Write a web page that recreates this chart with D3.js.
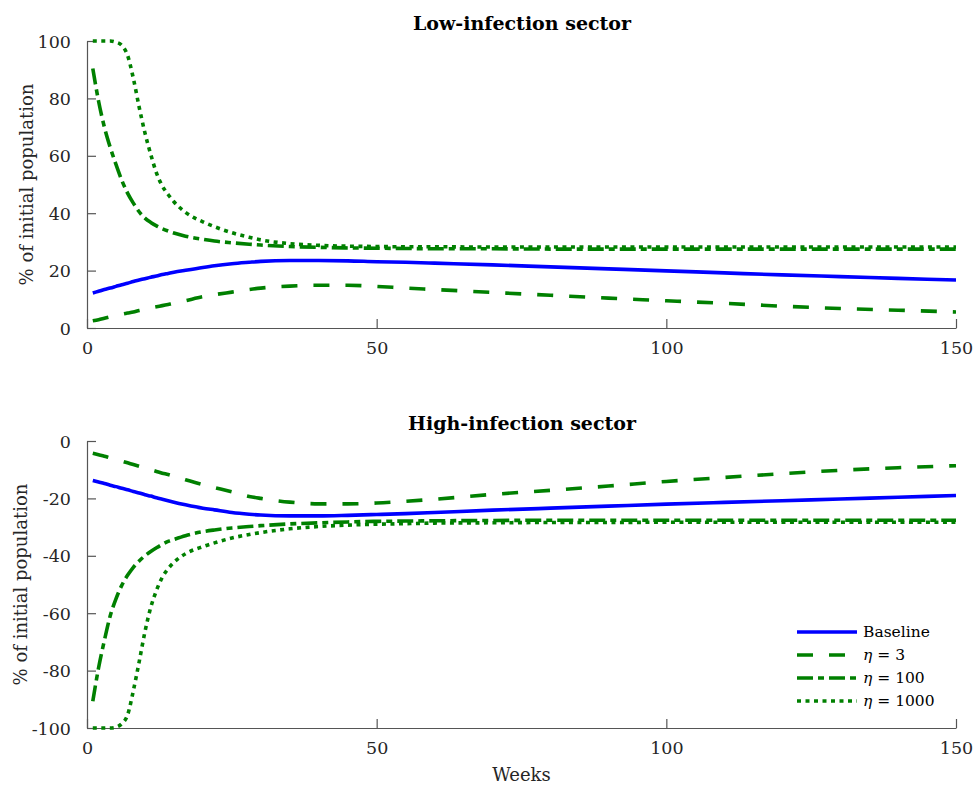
<!DOCTYPE html>
<html>
<head>
<meta charset="utf-8">
<script src="https://cdn.jsdelivr.net/npm/d3@7"></script>
<style>
  body { margin: 0; background: #fff; }
</style>
</head>
<body>
<svg id="chart" width="973" height="785"></svg>
<script>
// Simulation output: share of the initial population, by week
const weeks = [1,2,3,4,5,6,7,8,9,10,11,12,13,14,15,17,20,22,25,28,30,35,40,45,50,55,60,70,80,90,100,110,120,130,140,150];

// Low-infection sector
const lowBaseline = [12.2,12.8,13.4,13.9,14.5,15.1,15.6,16.2,16.7,17.2,17.7,18.1,18.6,19.0,19.4,20.1,21.1,21.7,22.4,22.9,23.2,23.5,23.5,23.4,23.1,22.9,22.6,22.0,21.3,20.6,19.9,19.2,18.5,17.9,17.3,16.7];
const lowEta3 = [2.5,2.9,3.4,3.9,4.3,4.8,5.2,5.6,6.1,6.5,7.0,7.4,7.8,8.2,8.6,9.5,10.9,11.6,12.5,13.4,13.9,14.6,14.9,14.9,14.5,13.9,13.4,12.4,11.4,10.4,9.5,8.6,7.6,6.8,6.2,5.6];
const lowEta100 = [90.4,79,70,63,57,51.5,47,43.5,40.5,38.3,36.8,35.6,34.6,33.8,33.1,32.0,30.9,30.3,29.7,29.2,28.9,28.4,28.1,27.9,27.8,27.7,27.6,27.6,27.5,27.5,27.5,27.5,27.5,27.5,27.5,27.5];
const lowEta1000 = [100,100,100,100,99.6,98.5,95,87,77,68,60.5,54,49.5,46.5,44,40.3,37,35.3,33.2,31.6,30.7,29.4,28.8,28.5,28.4,28.3,28.3,28.2,28.2,28.2,28.2,28.2,28.2,28.2,28.2,28.2];

// High-infection sector
const highBaseline = [-13.8,-14.3,-14.8,-15.4,-15.9,-16.5,-17.0,-17.6,-18.1,-18.7,-19.2,-19.8,-20.3,-20.8,-21.3,-22.2,-23.4,-24.0,-24.9,-25.5,-25.8,-26.1,-26.1,-25.9,-25.6,-25.3,-24.9,-24.1,-23.4,-22.7,-22.0,-21.4,-20.8,-20.2,-19.6,-19.0];
const highEta3 = [-4.3,-4.8,-5.3,-5.9,-6.4,-7.0,-7.6,-8.2,-8.8,-9.4,-10.0,-10.6,-11.2,-11.7,-12.3,-13.5,-15.2,-16.2,-17.7,-19.3,-20.0,-21.3,-21.9,-21.9,-21.6,-21.0,-20.3,-18.6,-17.2,-15.7,-14.1,-12.7,-11.4,-10.2,-9.3,-8.6];
const highEta100 = [-90.7,-79,-69.5,-61,-55,-50.3,-46.8,-44,-41.8,-40,-38.5,-37.2,-36,-35,-34.3,-33,-31.6,-31,-30.3,-29.8,-29.5,-28.9,-28.5,-28.2,-28.0,-27.9,-27.8,-27.7,-27.6,-27.6,-27.6,-27.6,-27.6,-27.6,-27.6,-27.6];
const highEta1000 = [-100,-100,-100,-100,-99.7,-98.5,-95.5,-87,-77,-66.5,-58,-52,-47.5,-44.5,-42.3,-39.3,-36.8,-35.5,-33.8,-32.6,-31.9,-30.6,-29.8,-29.3,-29.0,-28.8,-28.6,-28.5,-28.4,-28.4,-28.3,-28.3,-28.3,-28.3,-28.3,-28.3];

const seriesNames = ["Baseline", "\u03b7 = 3", "\u03b7 = 100", "\u03b7 = 1000"];
const xTicks = [0, 50, 100, 150];
const lowYTicks = [0, 20, 40, 60, 80, 100];
const highYTicks = [-100, -80, -60, -40, -20, 0];

const FONT = '"DejaVu Serif", "Liberation Serif", serif';
const styles = [
  { color: "#0000ff", dash: null },
  { color: "#008000", dash: "16,16" },
  { color: "#008000", dash: "16,5,6,5" },
  { color: "#008000", dash: "4,4.5" }
];

const svg = d3.select("#chart");
const left = 87, right = 956;
const x = d3.scaleLinear().domain([0, 150]).range([left, right]);

function panel(opts) {
  const y = d3.scaleLinear().domain(opts.yDomain).range([opts.bottom, opts.top]);
  const g = svg.append("g");

  // axes: left and bottom only, ticks pointing inward
  const fmt = d => String(d);
  const xAxis = d3.axisBottom(x).tickValues(xTicks).tickFormat(fmt)
    .tickSizeInner(-9).tickSizeOuter(0).tickPadding(14);
  const yAxis = d3.axisLeft(y).tickValues(opts.yTicks).tickFormat(fmt)
    .tickSizeInner(-9).tickSizeOuter(0).tickPadding(16);

  const gx = g.append("g").attr("transform", `translate(0,${opts.bottom})`).call(xAxis);
  const gy = g.append("g").attr("transform", `translate(${left},0)`).call(yAxis);
  [gx, gy].forEach(a => {
    a.attr("font-family", FONT).attr("font-size", 17.5);
    a.select(".domain").attr("stroke", "#555").attr("stroke-width", 1.2);
    a.selectAll(".tick line").attr("stroke", "#555").attr("stroke-width", 1.2);
    a.selectAll(".tick text").attr("fill", "#262626");
  });
  gy.selectAll(".tick text").attr("dy", "0.35em");

  const line = d3.line().x((d, i) => x(weeks[i])).y(d => y(d)).curve(d3.curveMonotoneX);
  opts.series.forEach((s, i) => {
    g.append("path")
      .datum(s)
      .attr("fill", "none")
      .attr("stroke", styles[i].color)
      .attr("stroke-width", 3.6)
      .attr("stroke-dasharray", styles[i].dash)
      .attr("d", line);
  });

  g.append("text")
    .attr("x", (left + right) / 2 + 0.5).attr("y", opts.top - 11)
    .attr("text-anchor", "middle").attr("font-family", FONT)
    .attr("font-size", 19).attr("font-weight", "bold")
    .attr("fill", "#000")
    .text(opts.title);

  g.append("text")
    .attr("transform", `translate(${opts.yLabelX},${(opts.top + opts.bottom) / 2}) rotate(-90)`)
    .attr("text-anchor", "middle").attr("font-family", FONT).attr("font-size", 18)
    .attr("fill", "#262626")
    .text("% of initial population");

  return { y, g };
}

panel({
  top: 41, bottom: 328, yDomain: [0, 100], yTicks: lowYTicks,
  title: "Low-infection sector", yLabelX: 33,
  series: [lowBaseline, lowEta3, lowEta100, lowEta1000]
});

panel({
  top: 441, bottom: 728, yDomain: [-100, 0], yTicks: highYTicks,
  title: "High-infection sector", yLabelX: 27,
  series: [highBaseline, highEta3, highEta100, highEta1000]
});

svg.append("text")
  .attr("x", (left + right) / 2).attr("y", 781)
  .attr("text-anchor", "middle").attr("font-family", FONT).attr("font-size", 18)
  .attr("fill", "#262626")
  .text("Weeks");

// legend
const legend = svg.append("g").attr("transform", "translate(797,632)");
seriesNames.forEach((name, i) => {
  const row = legend.append("g").attr("transform", `translate(0,${i * 23})`);
  row.append("line")
    .attr("x1", 0).attr("x2", 60).attr("y1", 0).attr("y2", 0)
    .attr("stroke", styles[i].color).attr("stroke-width", 3.6)
    .attr("stroke-dasharray", styles[i].dash);
  const t = row.append("text").attr("x", 66).attr("y", 0).attr("dy", "0.35em")
    .attr("font-family", FONT).attr("font-size", 15.5).attr("fill", "#000");
  if (i === 0) {
    t.text(name);
  } else {
    const parts = name.split(" = ");
    t.append("tspan").attr("font-style", "italic").text(parts[0]);
    t.append("tspan").text(" = " + parts[1]);
  }
});
</script>
</body>
</html>
